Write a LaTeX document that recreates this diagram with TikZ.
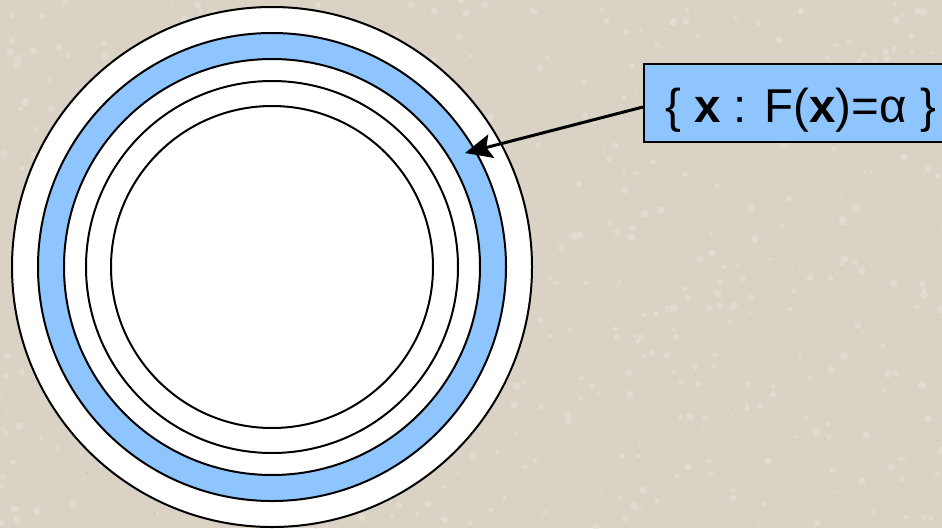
\documentclass[tikz,border=0pt]{standalone}
\usepackage{fontspec}
\setmainfont{Liberation Sans}
\usetikzlibrary{arrows.meta}
\definecolor{bg}{HTML}{DAD2C4}
\definecolor{bglight}{HTML}{E8E2D8}
\definecolor{bgdark}{HTML}{C9BFAE}
\definecolor{ringblue}{HTML}{8EC5FF}
\tikzset{
  ring/.style={draw=black, line width=2pt},
  labelbox/.style={draw=black, line width=2pt, fill=ringblue, minimum width=300pt, minimum height=78pt, inner sep=0pt},
  labeltext/.style={inner sep=0pt, font=\fontsize{47.5}{54}\selectfont},
  pointer/.style={draw=black, line width=3pt, -{Stealth[length=27pt,width=24pt,inset=5pt]}},
  speck/.style={fill=#1, opacity=0.55}
}
\begin{document}
\begin{tikzpicture}[x=1pt,y=-1pt]
\useasboundingbox (0,0) rectangle (942,528);
\clip (0,0) rectangle (942,528);
\fill[bg] (0,0) rectangle (942,528);
\pgfmathsetseed{7}
\foreach \i in {1,...,700}{
  \pgfmathsetmacro{\px}{random(0,942)}
  \pgfmathsetmacro{\py}{random(0,528)}
  \pgfmathsetmacro{\pr}{1+3*rnd}
  \fill[speck=bglight] (\px,\py) circle[radius=\pr];
}
\foreach \i in {1,...,400}{
  \pgfmathsetmacro{\px}{random(0,942)}
  \pgfmathsetmacro{\py}{random(0,528)}
  \fill[speck=bgdark] (\px,\py) circle[radius=0.9];
}
\coordinate (c) at (272,267);
\draw[ring, fill=white] (c) circle[radius=260];
\draw[ring, fill=ringblue] (c) circle[radius=234];
\draw[ring, fill=white] (c) circle[radius=208];
\draw[ring] (c) circle[radius=186];
\draw[ring] (c) circle[radius=161];
\node[labelbox] (lab) at (794,103) {};
\node[labeltext, anchor=base west] (labtext) at (665,122)
  {\{ \textbf{x} : F(\textbf{x})=α \}};
\coordinate (tip) at (465,153);
\draw[pointer] ([yshift=-4pt]lab.west) -- (tip);
\end{tikzpicture}
\end{document}
